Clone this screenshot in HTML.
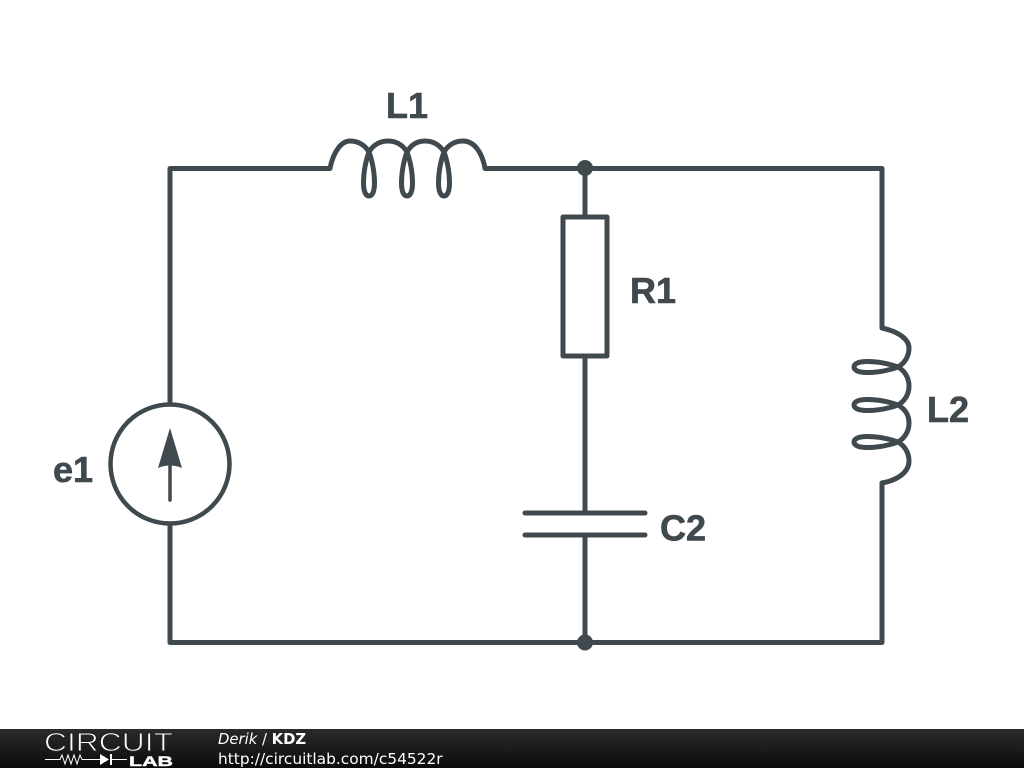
<!DOCTYPE html>
<html><head><meta charset="utf-8"><style>
html,body{margin:0;padding:0;background:#fff;width:1024px;height:768px;overflow:hidden}
svg{display:block}
</style></head><body>
<svg width="1024" height="768" viewBox="0 0 1024 768" xmlns="http://www.w3.org/2000/svg">
<defs>
<linearGradient id="g" x1="0" y1="0" x2="0" y2="1"><stop offset="0" stop-color="#2a2a2a"/><stop offset="0.5" stop-color="#1c1c1c"/><stop offset="1" stop-color="#0a0a0a"/></linearGradient>
<path id="coil" d="M330,168 C334,150 342,141 350,141 C358,141 365,145 369,152 C372,160 374.500,172 374.500,183 C374.500,192 372,196 369,196 C366,196 363.500,192 363.500,183 C363.500,172 366,160 369,152 C373,145 380,141 388,141 C396,141 403,145 407,152 C410,160 412.500,172 412.500,183 C412.500,192 410,196 407,196 C404,196 401.500,192 401.500,183 C401.500,172 404,160 407,152 C411,145 417,141 425,141 C433,141 440,145 444,152 C447,160 449.500,172 449.500,183 C449.500,192 447,196 444,196 C441,196 438.500,192 438.500,183 C438.500,172 441,160 444,152 C448,145 455,141 463,141 C474,141 482,152 485,168"/>
</defs>
<g fill="none" stroke="#3f494e" stroke-width="5" stroke-linejoin="round" stroke-linecap="round">
<path d="M170,404 V168.500 H330"/>
<path d="M485,168.500 H882 V327"/>
<path d="M882,483 V642.500 H170 V525"/>
<use href="#coil"/>
<use href="#coil" transform="matrix(0,1,-1,0,1050,-2)"/>
<path d="M585,168 V217"/>
<rect x="563" y="217" width="44" height="139"/>
<path d="M585,356 V513"/>
<path d="M525,513 H645"/>
<path d="M525,535 H645"/>
<path d="M585,535 V642"/>
<circle cx="170" cy="464" r="59.500" stroke-width="4.500"/>
<path d="M170,500 V465" stroke-width="3.500"/>
</g>
<path d="M170,428 L158,468 Q170,463 182,468 Z" fill="#3f494e"/>
<circle cx="585" cy="168" r="8" fill="#3f494e"/>
<circle cx="585" cy="642.500" r="8" fill="#3f494e"/>
<g font-family="'Liberation Sans',sans-serif" font-weight="bold" font-size="36" fill="#3f494e" stroke="#3f494e" stroke-width="0.6">
<text x="386" y="118">L1</text>
<text x="630" y="303">R1</text>
<text x="927" y="422">L2</text>
<text x="660" y="540.500">C2</text>
<text x="53" y="482">e1</text>
</g>
<rect x="0" y="729" width="1024" height="39" fill="url(#g)"/>
<text x="44" y="751" font-family="'Liberation Sans',sans-serif" font-size="26" fill="#fff" stroke="#222" stroke-width="0.9" textLength="129" lengthAdjust="spacingAndGlyphs">CIRCUIT</text>
<text x="129" y="766" font-family="'Liberation Sans',sans-serif" font-weight="bold" font-size="14" fill="#fff" stroke="#fff" stroke-width="0.4" textLength="44" lengthAdjust="spacingAndGlyphs">LAB</text>
<path d="M45,759.500 H60 L62,755 L65,764 L68,755 L71,764 L74,755 L77,764 L80,755 L82,759.500 H100 M112,759.500 H127" fill="none" stroke="#fff" stroke-width="1"/>
<path d="M100,754 L109,759.500 L100,765 Z M110,754 H112 V765 H110 Z" fill="#fff"/>
<text x="218" y="744" font-family="'DejaVu Sans',sans-serif" font-size="14.800" fill="#fff"><tspan font-style="italic">Derik</tspan> / <tspan font-weight="bold">KDZ</tspan></text>
<text x="218" y="764" font-family="'DejaVu Sans',sans-serif" font-size="15.400" fill="#fff">http://circuitlab.com/c54522r</text>
</svg>
</body></html>
